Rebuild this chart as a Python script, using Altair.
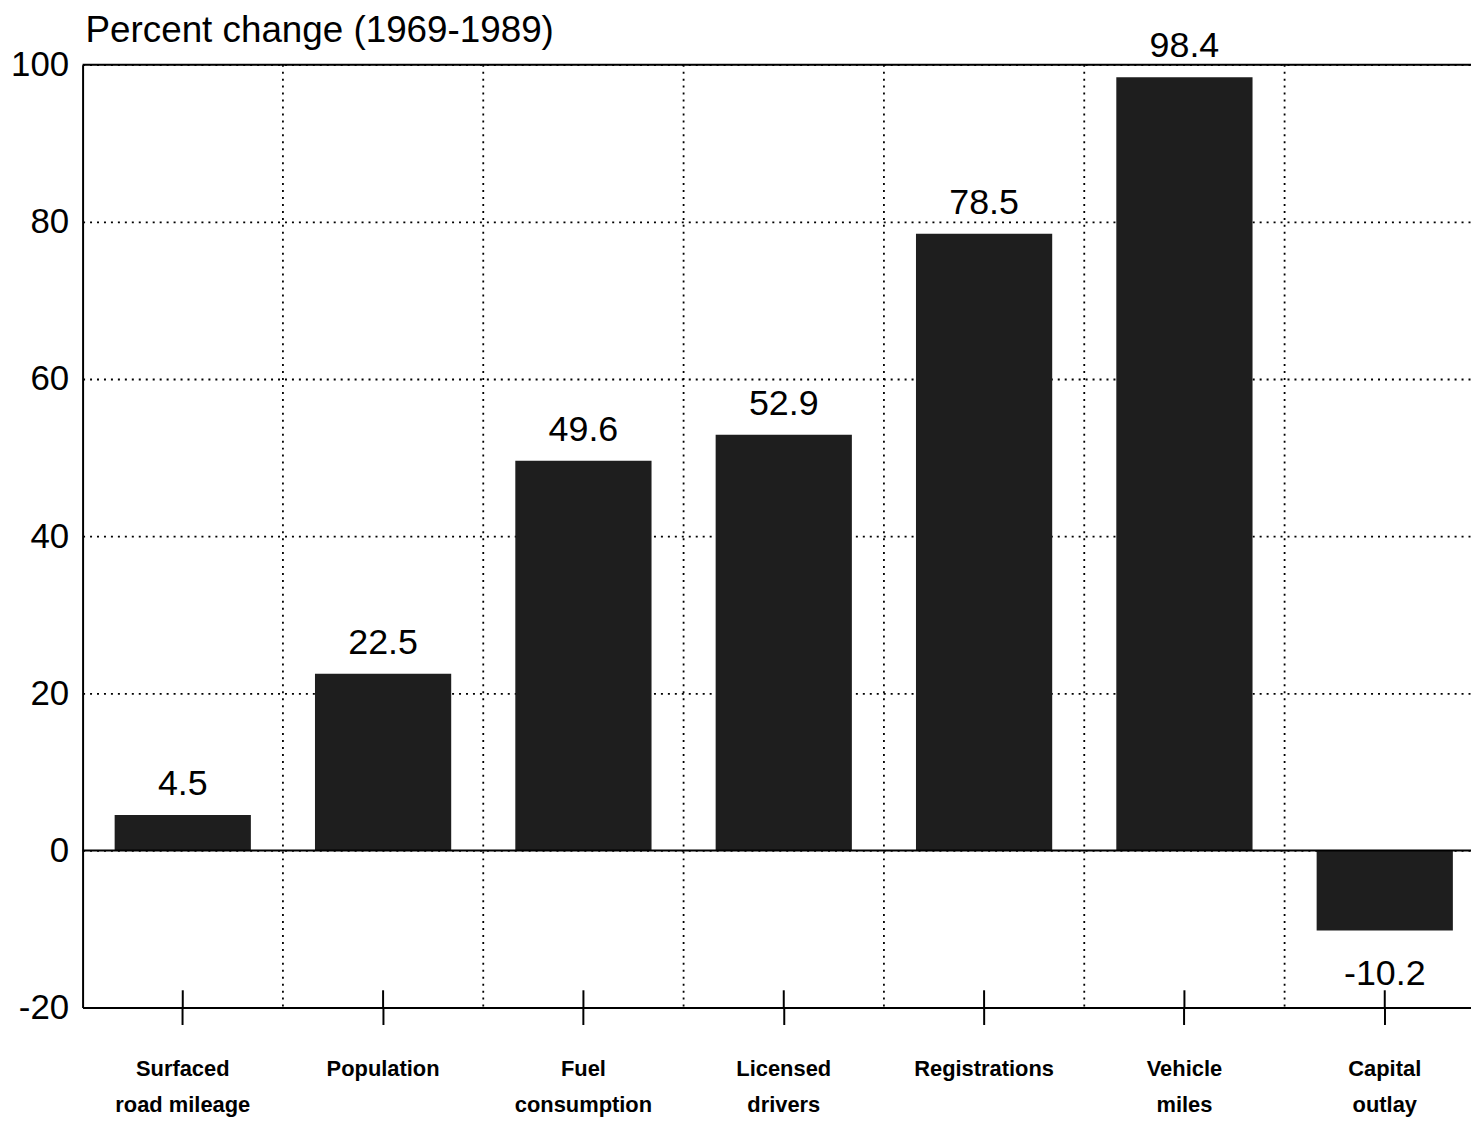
import altair as alt
import pandas as pd

categories = ["Surfaced|road mileage", "Population", "Fuel|consumption",
              "Licensed|drivers", "Registrations", "Vehicle|miles", "Capital|outlay"]
values = [4.5, 22.5, 49.6, 52.9, 78.5, 98.4, -10.2]
y_ticks = [-20, 0, 20, 40, 60, 80, 100]
solid_lines = [0, 100]
title_text = "Percent change (1969-1989)"

FONT = "Liberation Sans"
W, H = 1396, 948
STEP = 1410 / 7
P_IN, P_OUT = 0.32, 0.16

df = pd.DataFrame({"cat": categories, "value": values})
df["label"] = df["value"].map(lambda v: f"{v:.1f}")
df["tick_bottom"] = -20
df["tick_top"] = -17.8

xscale = alt.Scale(domain=categories, range=[0, 1410], paddingInner=P_IN, paddingOuter=P_OUT)
yscale = alt.Scale(domain=[-20, 100], nice=False, zero=False)

xaxis = alt.Axis(
    title=None, grid=False, labelAngle=0, labelFont=FONT, labelFontSize=22,
    labelFontWeight="bold", labelColor="black", labelExpr="split(datum.label, '|')",
    labelLineHeight=37, labelPadding=34, tickSize=17, tickWidth=2, tickColor="black",
    domainColor="black", domainWidth=2, labelBaseline="top",
)
yaxis = alt.Axis(
    title=None, values=y_ticks, ticks=False, labelFont=FONT, labelFontSize=35,
    labelColor="black", labelPadding=14, grid=True, gridColor="black",
    labelExpr="'' + datum.value",
    gridDash=[2, 5], gridWidth=1.8, domainColor="black", domainWidth=2,
)


def X(**kw):
    return alt.X("cat:N", sort=categories, scale=xscale, axis=xaxis, **kw)


def Y(field="value"):
    return alt.Y(f"{field}:Q", scale=yscale, axis=yaxis)


bars = alt.Chart(df).mark_bar(color="#1e1e1e").encode(x=X(), y=Y())

bounds = alt.Chart(df.iloc[1:]).mark_rule(
    color="black", strokeDash=[2, 5], strokeWidth=1.8, xOffset=-P_OUT * STEP
).encode(x=X(bandPosition=0))

lines_df = pd.DataFrame({"value": solid_lines})
hlines = alt.Chart(lines_df).mark_rule(color="black", strokeWidth=2).encode(y=Y())

cross = alt.Chart(df).mark_rule(color="black", strokeWidth=2).encode(
    x=X(), y=Y("tick_bottom"), y2=alt.Y2("tick_top")
)

pos_text = alt.Chart(df).transform_filter("datum.value >= 0").mark_text(
    font=FONT, fontSize=36, color="black", baseline="alphabetic", dy=-20
).encode(x=X(), y=Y(), text="label:N")

neg_text = alt.Chart(df).transform_filter("datum.value < 0").mark_text(
    font=FONT, fontSize=36, color="black", baseline="alphabetic", dy=55
).encode(x=X(), y=Y(), text="label:N")

chart = alt.layer(bars, bounds, hlines, cross, pos_text, neg_text).properties(
    width=W, height=H,
    title=alt.TitleParams(title_text, anchor="start", frame="group", font=FONT,
                          fontSize=37, fontWeight="normal", color="black",
                          offset=14, dx=3, dy=36),
    autosize=alt.AutoSizeParams(type="none"),
    padding={"left": 75, "top": 54, "right": 0, "bottom": 108},
).configure_view(stroke=None).configure(background="white")

chart.save("out.html", embed_options={"renderer": "svg", "actions": False})
